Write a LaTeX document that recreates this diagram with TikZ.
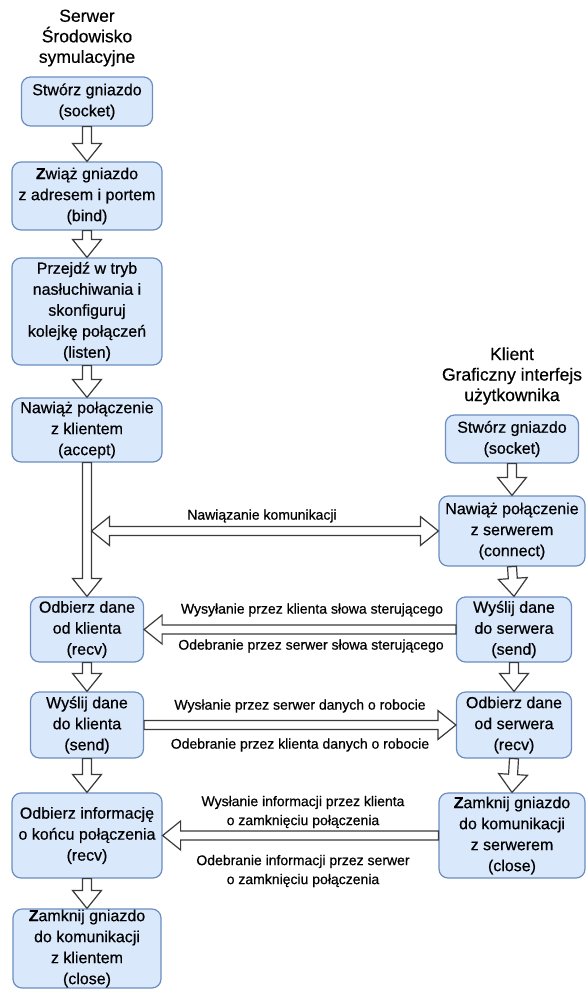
\documentclass[tikz,border=0pt]{standalone}
\usepackage{fontspec}
\setmainfont{Liberation Sans}[FakeBold=0.5]
\usetikzlibrary{calc}
\definecolor{boxfill}{HTML}{DAE8FC}
\definecolor{boxline}{HTML}{6C8EBF}
\definecolor{arrline}{HTML}{3A3A3A}
\newcommand\flowarrow[2]{%
  \coordinate (hb) at ($(#2)!18pt!(#1)$);
  \draw[blockarrow] ($(#1)!4.5pt!90:(#2)$) -- ($(hb)!4.5pt!-90:(#1)$) -- ($(hb)!14.5pt!-90:(#1)$) -- (#2)
    -- ($(hb)!14.5pt!90:(#1)$) -- ($(hb)!4.5pt!90:(#1)$) -- ($(#1)!4.5pt!-90:(#2)$) -- cycle;}
\newcommand\bothwayarrow[2]{%
  \coordinate (ha) at ($(#1)!18pt!(#2)$);
  \coordinate (hb) at ($(#2)!18pt!(#1)$);
  \draw[blockarrow] (#1) -- ($(ha)!14.5pt!90:(#2)$) -- ($(ha)!4.5pt!90:(#2)$) -- ($(hb)!4.5pt!-90:(#1)$)
    -- ($(hb)!14.5pt!-90:(#1)$) -- (#2) -- ($(hb)!14.5pt!90:(#1)$) -- ($(hb)!4.5pt!90:(#1)$)
    -- ($(ha)!4.5pt!-90:(#2)$) -- ($(ha)!14.5pt!-90:(#2)$) -- cycle;}

\begin{document}
\begin{tikzpicture}[x=1pt,y=-1pt,
  stage/.style={draw=boxline,fill=boxfill,line width=1.2pt,rounded corners=9pt,align=center,inner sep=0pt,font=\fontsize{16}{21}\selectfont},
  side/.style={align=center,font=\fontsize{17.5}{20.5}\selectfont},
  note/.style={align=center,font=\fontsize{14}{19}\selectfont},
  blockarrow/.style={draw=arrline,fill=white,line width=1.2pt}]
\useasboundingbox (0,0) rectangle (586,989);

\node[side] (server) at (87,38) {Serwer\\Środowisko\\symulacyjne};
\node[side] (client) at (512,376) {Klient\\Graficzny interfejs\\użytkownika};

\node[stage,minimum width=131pt,minimum height=49pt] (sock) at (87,101.5) {Stwórz gniazdo\\(socket)};
\node[stage,minimum width=150pt,minimum height=68pt] (bind) at (87,196) {\textbf{Z}wiąż gniazdo\\z adresem i portem\\(bind)};
\node[stage,minimum width=150pt,minimum height=107pt] (listen) at (87,311.5) {Przejdź w tryb\\nasłuchiwania i\\skonfiguruj\\kolejkę połączeń\\(listen)};
\node[stage,minimum width=150pt,minimum height=64pt] (accept) at (87,430) {Nawiąż połączenie\\z klientem\\(accept)};
\node[stage,minimum width=113pt,minimum height=65pt] (srecv) at (87,629.5) {Odbierz dane\\od klienta\\(recv)};
\node[stage,minimum width=113pt,minimum height=66pt] (ssend) at (87,725) {Wyślij dane\\do klienta\\(send)};
\node[stage,minimum width=150pt,minimum height=85pt] (sinfo) at (87,835.5) {Odbierz informację\\o końcu połączenia\\(recv)};
\node[stage,minimum width=148pt,minimum height=79pt] (sclose) at (87,948.5) {\textbf{Z}amknij gniazdo\\do komunikacji\\z klientem\\(close)};

\node[stage,minimum width=133pt,minimum height=48pt] (csock) at (512,439) {Stwórz gniazdo\\(socket)};
\node[stage,minimum width=146pt,minimum height=70pt] (conn) at (512,531) {Nawiąż połączenie\\z serwerem\\(connect)};
\node[stage,minimum width=115pt,minimum height=65pt] (csend) at (514,629.5) {Wyślij dane\\do serwera\\(send)};
\node[stage,minimum width=115pt,minimum height=66pt] (crecv) at (514,725) {Odbierz dane\\od serwera\\(recv)};
\node[stage,minimum width=146pt,minimum height=85pt] (cclose) at (512,835.5) {\textbf{Z}amknij gniazdo\\do komunikacji\\z serwerem\\(close)};

\foreach \a/\b in {sock/bind,bind/listen,listen/accept,accept/srecv,srecv/ssend,ssend/sinfo,sinfo/sclose,
  csock/conn,conn/csend,csend/crecv,crecv/cclose}
  \flowarrow{\a.south}{\b.north};

\coordinate (meet) at ($(accept.south |- conn.west)+(4.5,0)$);
\bothwayarrow{meet}{conn.west}
\flowarrow{csend.west}{srecv.east}
\flowarrow{ssend.east}{crecv.west}
\flowarrow{cclose.west}{sinfo.east}

\node[note] (hello) at (262,516) {Nawiązanie komunikacji};
\node[note] (ctrlout) at (312,610) {Wysyłanie przez klienta słowa sterującego};
\node[note] (ctrlin) at (311,646) {Odebranie przez serwer słowa sterującego};
\node[note] (dataout) at (300,706) {Wysłanie przez serwer danych o robocie};
\node[note] (datain) at (300,745) {Odebranie przez klienta danych o robocie};
\node[note] (byeout) at (303,812) {Wysłanie informacji przez klienta\\o zamknięciu połączenia};
\node[note] (byein) at (303,871) {Odebranie informacji przez serwer\\o zamknięciu połączenia};
\end{tikzpicture}
\end{document}
